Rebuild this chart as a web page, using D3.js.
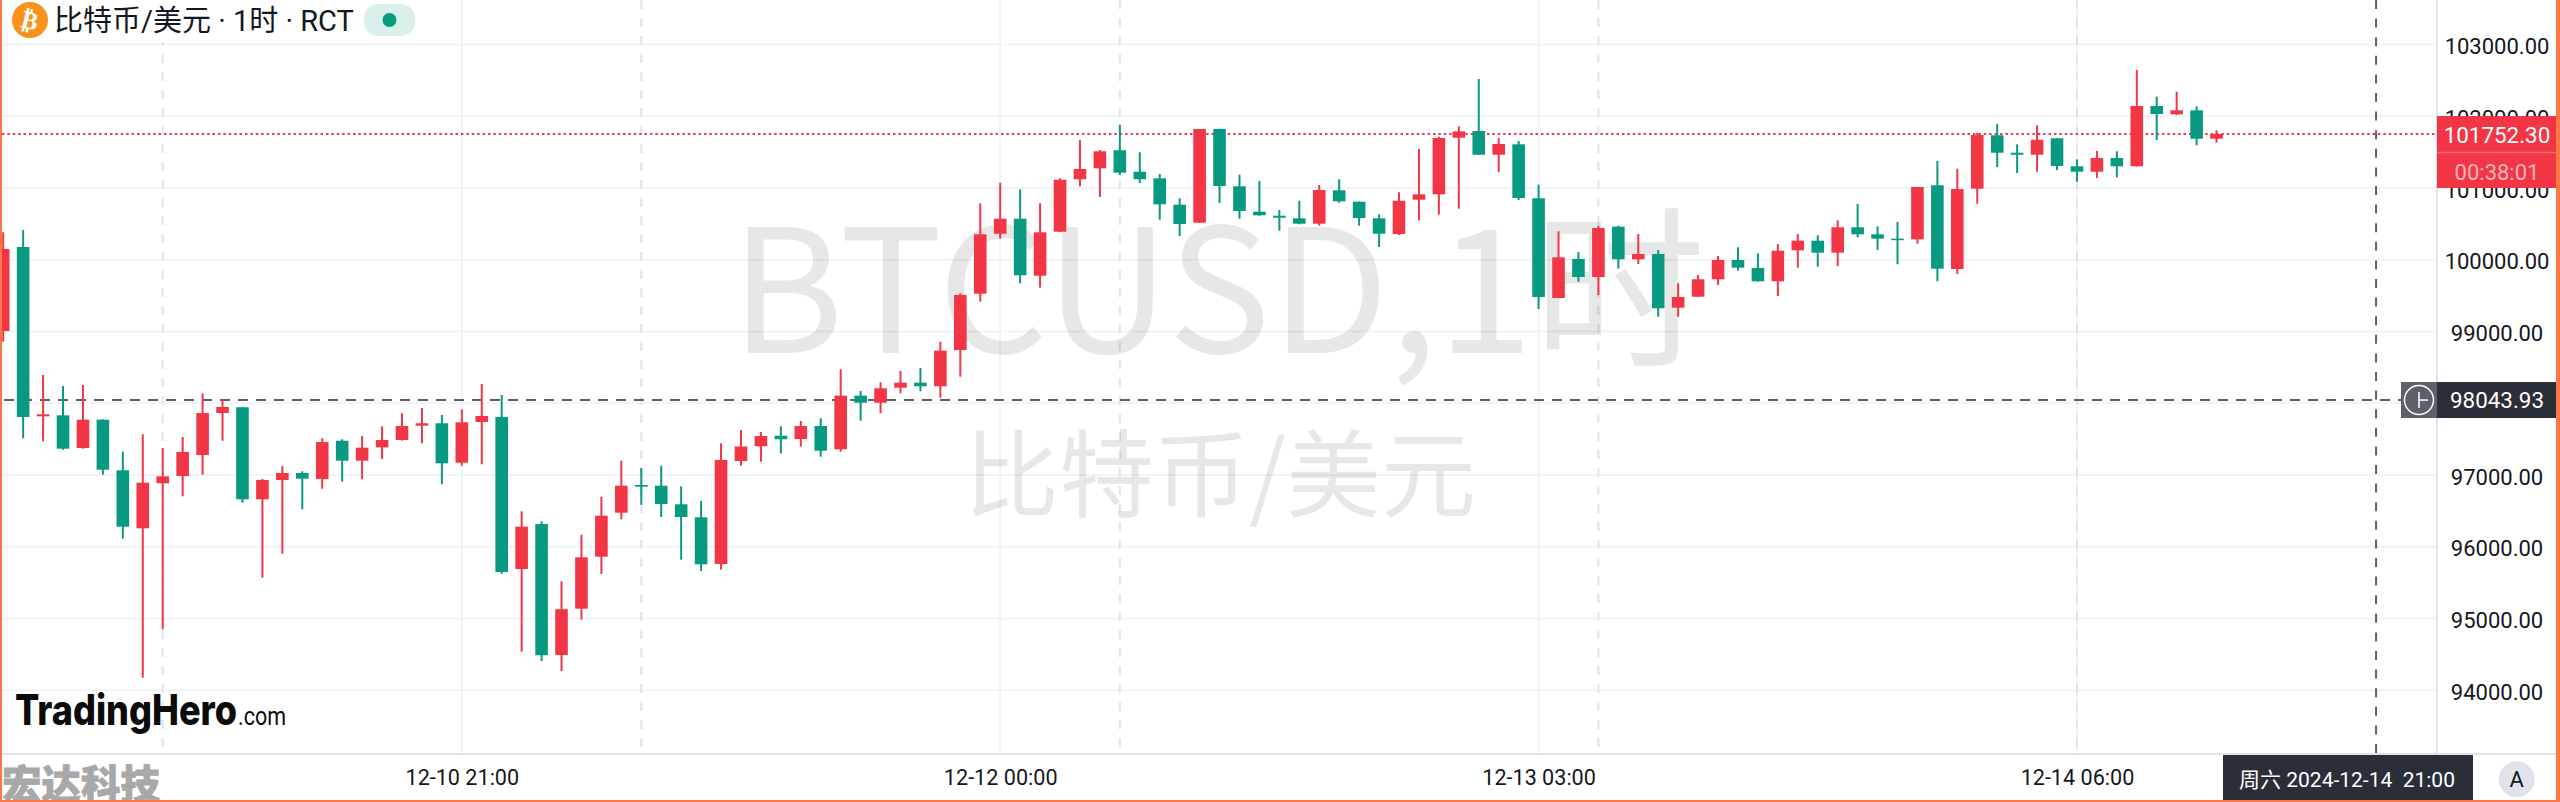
<!DOCTYPE html>
<html><head><meta charset="utf-8">
<script src="https://cdn.jsdelivr.net/npm/d3@7/dist/d3.min.js"></script>
<style>html,body{margin:0;padding:0;background:#fff;overflow:hidden}svg{display:block}text{font-family:Roboto,"Noto Sans CJK SC",sans-serif}</style>
</head><body><svg id="c" width="2560" height="802"></svg>
<script>
const open=[99006,100177,97817,97831,97376,97770,97065,96256,96884,96985,97278,97863,97943,96661,96930,97027,96944,97477,97199,97385,97487,97686,97720,97171,97738,97808,95689,96316,94491,95136,95861,96474,96860,96850,96591,96410,95759,97194,97399,97547,97501,97682,97358,98105,98007,98216,98286,98236,98741,99526,100362,100571,99777,100390,101121,101274,101525,101226,101134,100767,100516,101822,101023,100669,100613,100577,100502,100967,100808,100577,100358,100836,100911,101700,101794,101463,101608,100856,99466,100010,99759,100460,100006,100079,99331,99484,99727,99996,99884,99699,100131,100265,100098,100452,100354,100293,100284,101037,99870,100990,101734,101491,101463,101692,101302,101226,101417,101302,102142,102026,102082,101686];
const close=[100149,97808,97845,97366,97770,97073,96279,96892,96981,97320,97863,97947,96661,96930,97027,96948,97459,97199,97380,97487,97682,97720,97162,97734,97822,95648,96279,94487,95128,95852,96432,96850,96836,96595,96414,95755,97208,97397,97543,97497,97682,97338,98105,98007,98208,98286,98236,98732,99508,100354,100571,99783,100382,101115,101264,101511,101213,101121,100772,100498,101822,101027,100679,100619,100585,100502,100971,100814,100581,100362,100822,100911,101696,101789,101463,101613,100860,99480,100033,99759,100442,100006,100079,99323,99480,99727,99996,99889,99699,100125,100265,100098,100452,100354,100293,100279,101013,99875,100985,101738,101491,101463,101672,101306,101226,101417,101302,102142,102031,102082,101686,101752.30];
const high=[100382,100414,98393,98240,98254,97776,97324,97567,97376,97529,98138,98059,97947,96944,97125,97051,97511,97497,97543,97678,97859,97933,97836,97915,98268,98114,96493,96354,95518,96167,96697,97199,97097,97129,96842,96637,97441,97627,97599,97678,97752,97790,98473,98170,98291,98449,98491,98857,99532,100786,101073,100981,100786,101134,101668,101529,101881,101497,101194,100856,101822,101826,101185,101097,100693,100822,101041,101121,100811,100633,100939,101543,101714,101859,102518,101696,101654,101045,100396,100107,100474,100474,100358,100135,99671,99787,100052,100173,100089,100219,100358,100340,100549,100776,100465,100525,101013,101376,101268,101770,101891,101608,101873,101696,101399,101515,101511,102644,102272,102341,102138,101803];
const low=[98857,97511,97469,97352,97366,97004,96112,94174,94849,96702,97004,97477,96613,95568,95903,96521,96808,96906,96939,97222,97480,97441,96870,97129,97148,95624,94537,94407,94268,94983,95620,96382,96585,96414,95819,95661,95680,97129,97185,97302,97394,97254,97324,97756,97859,98138,98166,98077,98369,99415,100293,99671,99610,100383,101023,100874,101180,101069,100557,100330,100511,100790,100571,100613,100404,100493,100474,100794,100474,100177,100344,100549,100627,100711,101459,101222,100832,99313,99462,99693,99508,99875,99940,99206,99206,99480,99647,99847,99695,99494,99889,99902,99912,100312,100135,99936,100223,99699,99801,100780,101292,101208,101226,101250,101087,101139,101148,101298,101668,102017,101594,101631];
const priceTicks=[103000,102000,101000,100000,99000,98000,97000,96000,95000,94000];
const timeTickIndex=[23,50,77,104];
const timeTickLabels=["12-10 21:00","12-12 00:00","12-13 03:00","12-14 06:00"];
const sessionBreakIndex=[8,32,56,80,104];
const crosshairIndex=119, crosshairPrice=98043.93, lastPrice=101752.30;
const crosshairTimeLabel="周六 2024-12-14  21:00", countdownLabel="00:38:01";
const titleLabel="比特币/美元 · 1时 · RCT", watermarkTop="BTCUSD,1时", watermarkSub="比特币/美元";

const UP="#f23645", DOWN="#089981", GRID="#f0f3fa", AXIS="#e0e3eb", CROSS="#5d606b", DARK="#2a2e39", EDGE="#ff7747";
const paneR=2437, paneB=754;
const svg=d3.select("#c");
const x=d3.scaleLinear().domain([0,crosshairIndex]).range([3.2,2376.06]);
const y=d3.scaleLinear().domain([94000,103000]).range([690.2,44.45]);

svg.append("rect").attr("width",2560).attr("height",802).attr("fill","#fff");
const defs=svg.append("defs");
defs.append("clipPath").attr("id","pane").append("rect").attr("x",0).attr("y",0).attr("width",paneR).attr("height",paneB);
const pane=svg.append("g").attr("clip-path","url(#pane)");

// grid
pane.selectAll("line.gh").data(priceTicks).join("line").attr("class","gh")
  .attr("x1",0).attr("x2",paneR).attr("y1",d=>y(d)).attr("y2",d=>y(d)).attr("stroke",GRID).attr("stroke-width",2);
pane.selectAll("line.gv").data(timeTickIndex).join("line").attr("class","gv")
  .attr("x1",d=>x(d)).attr("x2",d=>x(d)).attr("y1",0).attr("y2",paneB).attr("stroke",GRID).attr("stroke-width",2);
pane.selectAll("line.gs").data(sessionBreakIndex).join("line").attr("class","gs")
  .attr("x1",d=>x(d)).attr("x2",d=>x(d)).attr("y1",0).attr("y2",paneB).attr("stroke",AXIS).attr("stroke-width",2).attr("stroke-dasharray","9 9");

// watermark
pane.append("text").attr("x",1218).attr("y",353).attr("text-anchor","middle").attr("font-size",172.5).attr("fill","rgba(19,23,34,0.1)")
  .style("font-family",'"Noto Sans CJK SC"').text(watermarkTop);
pane.append("text").attr("x",1220).attr("y",510).attr("text-anchor","middle").attr("font-size",95).attr("fill","rgba(19,23,34,0.1)")
  .style("font-family",'"Noto Sans CJK SC"').text(watermarkSub);

// last price + crosshair lines
pane.append("line").attr("x1",2).attr("x2",paneR).attr("y1",y(lastPrice)).attr("y2",y(lastPrice)).attr("stroke",UP).attr("stroke-width",2).attr("stroke-dasharray","2.4 3");
pane.append("line").attr("x1",4).attr("x2",paneR).attr("y1",y(crosshairPrice)).attr("y2",y(crosshairPrice)).attr("stroke",CROSS).attr("stroke-width",2).attr("stroke-dasharray","10 8");
pane.append("line").attr("x1",x(crosshairIndex)).attr("x2",x(crosshairIndex)).attr("y1",0).attr("y2",paneB).attr("stroke",CROSS).attr("stroke-width",2).attr("stroke-dasharray","9 9.6");

// candles
const idx=d3.range(open.length);
const col=i=>close[i]>=open[i]?UP:DOWN;
pane.selectAll("line.w").data(idx).join("line").attr("class","w")
  .attr("x1",i=>x(i)).attr("x2",i=>x(i)).attr("y1",i=>y(high[i])).attr("y2",i=>y(low[i])).attr("stroke",col).attr("stroke-width",2);
pane.selectAll("rect.b").data(idx).join("rect").attr("class","b")
  .attr("x",i=>x(i)-6.3).attr("width",12.6)
  .attr("y",i=>y(Math.max(open[i],close[i])))
  .attr("height",i=>Math.max(1.5,Math.abs(y(open[i])-y(close[i]))))
  .attr("fill",col);

// logo
const logo=pane.append("g");
logo.append("text").attr("x",15).attr("y",725).attr("font-size",42).attr("font-weight",800).attr("fill","#0b0b0b")
  .style("font-family","Inter").attr("textLength",222).attr("lengthAdjust","spacingAndGlyphs").text("TradingHero");
logo.append("text").attr("x",238).attr("y",725).attr("font-size",26).attr("fill","#0b0b0b").attr("textLength",48).attr("lengthAdjust","spacingAndGlyphs").text(".com");

// legend
svg.append("rect").attr("x",0).attr("y",0).attr("width",430).attr("height",42).attr("fill","#fff");
svg.append("circle").attr("cx",30).attr("cy",20).attr("r",18).attr("fill","#f7931a");
svg.append("text").attr("x",30).attr("y",29).attr("text-anchor","middle").attr("font-size",25).attr("font-weight",700).attr("fill","#fff")
  .attr("transform","rotate(14 30 20)").style("font-family","DejaVu Sans").text("₿");
svg.append("text").attr("x",54).attr("y",31).attr("font-size",29).attr("fill","#131722").text(titleLabel);
svg.append("rect").attr("x",364).attr("y",4).attr("width",51).attr("height",32).attr("rx",14).attr("fill","#d9f0eb");
svg.append("circle").attr("cx",389.5).attr("cy",20).attr("r",7).attr("fill",DOWN);

// price axis
const py=svg.append("g").attr("transform",`translate(2497,1.5)`)
  .call(d3.axisRight(y).tickValues(priceTicks).tickFormat(d3.format(".2f")).tickSize(0));
py.select(".domain").remove();
py.selectAll("text").attr("x",0).attr("dy","0.35em").attr("text-anchor","middle").attr("font-size",22).attr("fill","#131722").style("font-family","Roboto");
svg.append("line").attr("x1",paneR).attr("x2",paneR).attr("y1",0).attr("y2",paneB).attr("stroke",AXIS).attr("stroke-width",2);

// time axis
svg.append("line").attr("x1",0).attr("x2",2560).attr("y1",paneB).attr("y2",paneB).attr("stroke",AXIS).attr("stroke-width",2);
const tx=svg.append("g").attr("transform",`translate(0,755)`)
  .call(d3.axisBottom(x).tickValues(timeTickIndex).tickFormat((d,i)=>timeTickLabels[i]).tickSize(0));
tx.select(".domain").remove();
tx.selectAll("text").attr("y",22).attr("dy","0.35em").attr("font-size",21.6).attr("fill","#131722").style("font-family","Roboto");

// price labels
svg.append("rect").attr("x",paneR).attr("y",116).attr("width",119).attr("height",72).attr("fill",UP);
svg.append("line").attr("x1",paneR).attr("x2",2556).attr("y1",152.5).attr("y2",152.5).attr("stroke","rgba(255,255,255,0.25)").attr("stroke-width",1.5);
svg.append("text").attr("x",2497).attr("y",143).attr("text-anchor","middle").attr("font-size",22.4).attr("fill","#fff").style("font-family","Roboto").text(d3.format(".2f")(lastPrice));
svg.append("text").attr("x",2497).attr("y",179.5).attr("text-anchor","middle").attr("font-size",22).attr("fill","rgba(255,255,255,0.65)").style("font-family","Roboto").text(countdownLabel);
const cy=y(crosshairPrice);
svg.append("rect").attr("x",paneR).attr("y",cy-18).attr("width",119).attr("height",36).attr("fill",DARK);
svg.append("text").attr("x",2497).attr("y",cy+8).attr("text-anchor","middle").attr("font-size",22.4).attr("fill","#fff").style("font-family","Roboto").text(d3.format(".2f")(crosshairPrice));
svg.append("rect").attr("x",2401).attr("y",cy-18).attr("width",36).attr("height",36).attr("fill",CROSS);
svg.append("circle").attr("cx",2419).attr("cy",cy).attr("r",14.5).attr("fill","none").attr("stroke","#fff").attr("stroke-width",1.5);
svg.append("line").attr("x1",2419).attr("x2",2419).attr("y1",cy-8).attr("y2",cy+8).attr("stroke","#fff").attr("stroke-width",1.5);
svg.append("line").attr("x1",2419).attr("x2",2428).attr("y1",cy).attr("y2",cy).attr("stroke","#fff").attr("stroke-width",1.5);

// crosshair time label + auto button
svg.append("rect").attr("x",2223).attr("y",755).attr("width",250).attr("height",46).attr("fill",DARK);
svg.append("text").attr("x",2347).attr("y",786.5).attr("text-anchor","middle").attr("font-size",21).attr("fill","#fff").attr("xml:space","preserve").style("white-space","pre").text(crosshairTimeLabel);
svg.append("circle").attr("cx",2516.7).attr("cy",779.3).attr("r",18).attr("fill",AXIS);
svg.append("text").attr("x",2516.7).attr("y",787).attr("text-anchor","middle").attr("font-size",22).attr("fill","#131722").text("A");

// screenshot stamp
svg.append("text").attr("x",2).attr("y",799).attr("font-size",39.5).attr("font-weight",900).attr("fill","#a8a8a8").attr("stroke","#a8a8a8").attr("stroke-width",0.8).style("font-family",'"Noto Sans CJK SC"').text("宏达科技");

// frame
svg.append("rect").attr("x",0).attr("y",0).attr("width",2).attr("height",802).attr("fill",EDGE);
svg.append("rect").attr("x",0).attr("y",800).attr("width",2560).attr("height",2).attr("fill",EDGE);
svg.append("rect").attr("x",2556).attr("y",0).attr("width",4).attr("height",802).attr("fill",EDGE);
</script></body></html>
